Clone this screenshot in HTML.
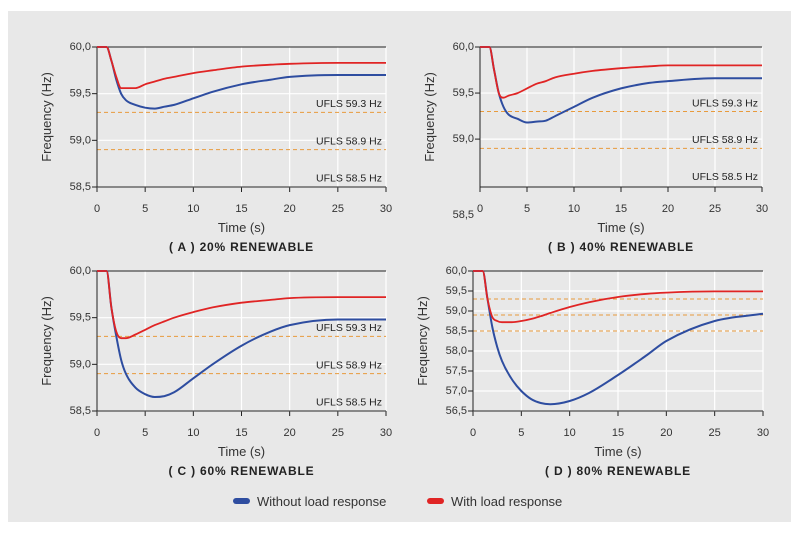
<!DOCTYPE html>
<html><head><meta charset="utf-8"><style>
body{margin:0;background:#fff;}
svg{display:block;font-family:"Liberation Sans",sans-serif;}
</style></head><body>
<svg id="c" width="801" height="533" viewBox="0 0 801 533">
<rect x="8" y="11" width="783" height="511" fill="#e8e8e8"/>
<g id="g"></g>
<g>
<rect x="233" y="498" width="17" height="6" rx="3" fill="#2e4da0"/>
<text x="257" y="506" font-size="13" fill="#333">Without load response</text>
<rect x="427" y="498" width="17" height="6" rx="3" fill="#e02424"/>
<text x="451" y="506" font-size="13" fill="#333">With load response</text>
</g>
</svg>
<script>
const times=[0,1,1.5,2,2.5,3,4,5,6,7,8,10,12,15,18,20,25,30];
const xTicks=[0,5,10,15,20,25,30];
const aBlue=[60,60,59.85,59.65,59.5,59.43,59.38,59.35,59.34,59.36,59.38,59.45,59.52,59.6,59.65,59.68,59.7,59.7];
const aRed=[60,60,59.85,59.68,59.56,59.56,59.56,59.6,59.63,59.66,59.68,59.72,59.75,59.79,59.81,59.82,59.83,59.83];
const bBlue=[60,60,59.75,59.5,59.35,59.27,59.22,59.18,59.19,59.2,59.25,59.35,59.45,59.55,59.61,59.63,59.66,59.66];
const bRed=[60,60,59.75,59.5,59.45,59.47,59.5,59.55,59.6,59.63,59.67,59.71,59.74,59.77,59.79,59.8,59.8,59.8];
const cBlue=[60,60,59.6,59.3,59.05,58.9,58.75,58.68,58.65,58.66,58.7,58.85,59.0,59.2,59.35,59.42,59.48,59.48];
const cRed=[60,60,59.6,59.35,59.28,59.28,59.32,59.37,59.42,59.46,59.5,59.56,59.61,59.66,59.69,59.71,59.72,59.72];
const dBlue=[60,60,59.3,58.6,58.1,57.75,57.3,57.0,56.8,56.7,56.67,56.75,56.95,57.4,57.9,58.25,58.75,58.93];
const dRed=[60,60,59.3,58.85,58.75,58.72,58.72,58.75,58.8,58.87,58.95,59.1,59.22,59.35,59.43,59.46,59.49,59.49];
const ufls=[59.3,58.9,58.5];
const yTicksABC=[60,59.5,59,58.5];
const yTicksD=[60,59.5,59,58.5,58,57.5,57,56.5];
const NS="http://www.w3.org/2000/svg";
const G=document.getElementById('g');
function mk(tag,at,parent){const e=document.createElementNS(NS,tag);for(const k in at)e.setAttribute(k,at[k]);(parent||G).appendChild(e);return e;}
function fmt(v){return v.toFixed(1).replace('.',',');}
const panels=[
 {id:'a',x0:97,x1:386,y0:47,y1:187,ymax:60,ymin:58.5,ticks:yTicksABC,blue:aBlue,red:aRed,title:'( A ) 20% RENEWABLE',labels:true,showLow:false},
 {id:'b',x0:480,x1:762,y0:47,y1:187,ymax:60,ymin:58.48,ticks:[60,59.5,59],blue:bBlue,red:bRed,title:'( B ) 40% RENEWABLE',labels:true,extra:true,showLow:false},
 {id:'c',x0:97,x1:386,y0:271,y1:411,ymax:60,ymin:58.5,ticks:yTicksABC,blue:cBlue,red:cRed,title:'( C ) 60% RENEWABLE',labels:true,showLow:false},
 {id:'d',x0:473,x1:763,y0:271,y1:411,ymax:60,ymin:56.5,ticks:yTicksD,blue:dBlue,red:dRed,title:'( D ) 80% RENEWABLE',labels:false,showLow:true}
];
function path(xs,ys){const n=xs.length,d=[],m=[];
 for(let i=0;i<n-1;i++)d.push((ys[i+1]-ys[i])/(xs[i+1]-xs[i]));
 m[0]=d[0];m[n-1]=d[n-2];
 for(let i=1;i<n-1;i++){m[i]=(d[i-1]*d[i]<=0)?0:(d[i-1]+d[i])/2;}
 for(let i=0;i<n-1;i++){if(d[i]===0){m[i]=0;m[i+1]=0;continue;}const a=m[i]/d[i],b=m[i+1]/d[i],s=a*a+b*b;if(s>9){const t=3/Math.sqrt(s);m[i]=t*a*d[i];m[i+1]=t*b*d[i];}}
 let p='M'+xs[0].toFixed(1)+','+ys[0].toFixed(1);
 for(let i=0;i<n-1;i++){const h=(xs[i+1]-xs[i])/3;
  p+=' C'+(xs[i]+h).toFixed(1)+','+(ys[i]+m[i]*h).toFixed(1)+' '+(xs[i+1]-h).toFixed(1)+','+(ys[i+1]-m[i+1]*h).toFixed(1)+' '+xs[i+1].toFixed(1)+','+ys[i+1].toFixed(1);}
 return p;}
panels.forEach(p=>{
 const g=mk('g',{});
 
 
 const X=t=>p.x0+(t-0)/30*(p.x1-p.x0);
 const Y=v=>p.y0+(p.ymax-v)/(p.ymax-p.ymin)*(p.y1-p.y0);
 xTicks.forEach(t=>{if(t>0){const l=mk('line',{x1:X(t),x2:X(t),y1:p.y0,y2:p.y1,stroke:'#fff','stroke-width':1.2},g);}
  const tk=mk('line',{x1:X(t),x2:X(t),y1:p.y1,y2:p.y1+5,stroke:'#222'},g);
  const tx=mk('text',{x:X(t),y:p.y1+25,'text-anchor':'middle','font-size':11,fill:'#333'},g);tx.textContent=t;});
 p.ticks.forEach(v=>{if(v<p.ymax){const l=mk('line',{x1:p.x0,x2:p.x1,y1:Y(v),y2:Y(v),stroke:'#fff','stroke-width':1.2},g);}
  const tk=mk('line',{x1:p.x0-5,x2:p.x0,y1:Y(v),y2:Y(v),stroke:'#222'},g);
  const tx=mk('text',{x:p.x0-6,y:Y(v)+3,'text-anchor':'end','font-size':11,fill:'#333'},g);tx.textContent=fmt(v);});
 if(p.extra){const tx=mk('text',{x:p.x0-6,y:218,'text-anchor':'end','font-size':11,fill:'#333'},g);tx.textContent='58,5';}
 ufls.forEach(v=>{if(v>58.6||p.showLow){const l=mk('line',{x1:p.x0,x2:p.x1,y1:Y(v),y2:Y(v),stroke:'#e89a3c','stroke-width':1,'stroke-dasharray':'4,3'},g);}
  if(p.labels){const tx=mk('text',{x:p.x1-4,y:Y(v+0.1)+4,'text-anchor':'end','font-size':10.5,fill:'#222'},g);tx.textContent='UFLS '+v.toFixed(1)+' Hz';}});
 const ax=mk('path',{d:'M'+p.x0+','+p.y0+' V'+p.y1+' H'+p.x1+' M'+p.x0+','+p.y0+' H'+p.x1,fill:'none',stroke:'#222','stroke-width':1},g);
 const xs=times.map(X);
 const b=mk('path',{d:path(xs,p.blue.map(Y)),fill:'none',stroke:'#2e4da0','stroke-width':2},g);
 const r=mk('path',{d:path(xs,p.red.map(Y)),fill:'none',stroke:'#e02424','stroke-width':1.8},g);
 const xt=mk('text',{x:(p.x0+p.x1)/2,y:p.y1+45,'text-anchor':'middle','font-size':13,fill:'#333'},g);xt.textContent='Time (s)';
 const yc=(p.y0+p.y1)/2,yx=p.x0-46;
 const yt=mk('text',{x:yx,y:yc,'text-anchor':'middle','font-size':13,fill:'#333',transform:'rotate(-90 '+yx+' '+yc+')'},g);yt.textContent='Frequency (Hz)';
 const tt=mk('text',{x:(p.x0+p.x1)/2,y:p.y1+64,'text-anchor':'middle','font-size':12,'font-weight':'bold','letter-spacing':'0.8',fill:'#222'},g);tt.textContent=p.title;
});
</script>
</body></html>
